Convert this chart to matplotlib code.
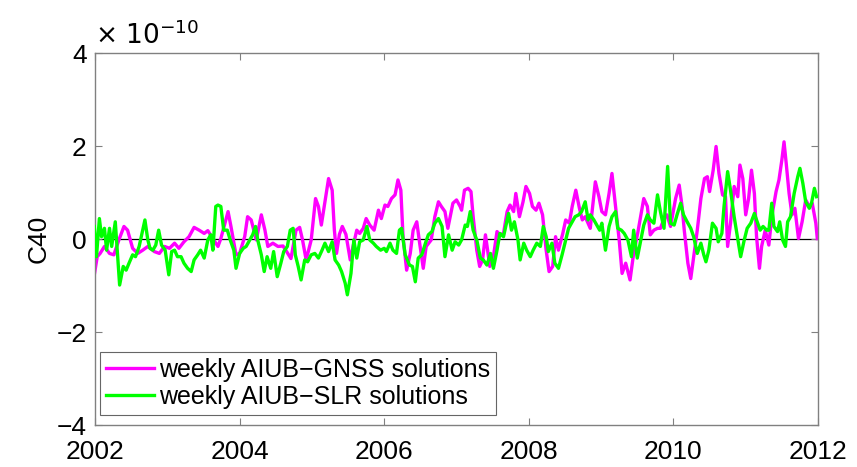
import matplotlib
matplotlib.use("Agg")
import matplotlib.pyplot as plt
import numpy as np

plt.rcParams['font.family'] = ['Liberation Sans', 'DejaVu Sans']

# weekly AIUB-GNSS solutions (C40, units of 1e-10)
gnss_t = [2001.99, 2002.03, 2002.07, 2002.13, 2002.20, 2002.26, 2002.33, 2002.40, 2002.45, 2002.52,
          2002.59, 2002.66, 2002.73, 2002.82, 2002.89, 2002.96, 2003.03, 2003.10, 2003.16, 2003.23,
          2003.30, 2003.37, 2003.44, 2003.51, 2003.56, 2003.63, 2003.70, 2003.74, 2003.84, 2003.88,
          2003.95, 2004.00, 2004.07, 2004.11, 2004.16, 2004.23, 2004.30, 2004.35, 2004.39, 2004.46,
          2004.53, 2004.60, 2004.65, 2004.71, 2004.78, 2004.83, 2004.87, 2004.92, 2004.99, 2005.05,
          2005.09, 2005.13, 2005.17, 2005.23, 2005.28, 2005.31, 2005.34, 2005.38, 2005.42, 2005.47,
          2005.53, 2005.57, 2005.62, 2005.66, 2005.71, 2005.75, 2005.80, 2005.86, 2005.92, 2005.96,
          2006.01, 2006.05, 2006.10, 2006.15, 2006.19, 2006.23, 2006.26, 2006.31, 2006.36, 2006.40,
          2006.45, 2006.49, 2006.54, 2006.58, 2006.65, 2006.70, 2006.75, 2006.79, 2006.84, 2006.88,
          2006.95, 2007.00, 2007.05, 2007.07, 2007.11, 2007.16, 2007.20, 2007.23, 2007.28, 2007.32,
          2007.36, 2007.40, 2007.43, 2007.46, 2007.51, 2007.56, 2007.60, 2007.65, 2007.70, 2007.74,
          2007.79, 2007.82, 2007.87, 2007.92, 2007.96, 2008.01, 2008.05, 2008.10, 2008.14, 2008.19,
          2008.24, 2008.28, 2008.33, 2008.37, 2008.41, 2008.47, 2008.51, 2008.56, 2008.60, 2008.65,
          2008.70, 2008.74, 2008.78, 2008.85, 2008.92, 2008.97, 2009.01, 2009.06, 2009.11, 2009.15,
          2009.20, 2009.25, 2009.29, 2009.34, 2009.40, 2009.45, 2009.51, 2009.55, 2009.59, 2009.64,
          2009.68, 2009.73, 2009.78, 2009.82, 2009.87, 2009.91, 2009.96, 2010.03, 2010.08, 2010.12,
          2010.15, 2010.20, 2010.24, 2010.28, 2010.33, 2010.38, 2010.43, 2010.47, 2010.50, 2010.55,
          2010.59, 2010.63, 2010.68, 2010.72, 2010.75, 2010.79, 2010.84, 2010.89, 2010.92, 2010.96,
          2011.00, 2011.04, 2011.08, 2011.12, 2011.15, 2011.19, 2011.22, 2011.27, 2011.32, 2011.36,
          2011.42, 2011.46, 2011.50, 2011.53, 2011.56, 2011.60, 2011.64, 2011.68, 2011.73, 2011.78,
          2011.83, 2011.88, 2011.92, 2011.97, 2011.99]
gnss_v = [-0.77, -0.38, -0.31, -0.16, -0.31, -0.34, -0.02, 0.27, 0.19, -0.20,
          -0.31, -0.24, -0.16, -0.27, -0.31, -0.16, -0.20, -0.09, -0.20, -0.06,
          0.05, 0.25, 0.19, 0.12, 0.18, 0.01, -0.16, 0.01, 0.59, 0.27,
          -0.34, -0.31, 0.05, 0.48, 0.41, -0.02, 0.52, 0.19, -0.16, -0.09,
          -0.16, -0.15, -0.27, -0.42, 0.19, 0.25, -0.02, -0.45, -0.02, 0.87,
          0.70, 0.30, 0.70, 1.30, 1.05, 0.20, -0.31, 0.10, 0.27, 0.10,
          -0.45, -0.15, 0.19, 0.12, 0.23, 0.44, 0.30, 0.19, 0.62, 0.44,
          0.73, 0.70, 0.87, 0.95, 1.27, 1.05, 0.05, -0.67, -0.31, 0.19,
          0.37, -0.09, -0.63, -0.16, -0.02, 0.48, 0.80, 0.70, 0.59, 0.23,
          0.77, 0.84, 0.70, 0.62, 1.05, 1.09, 1.02, 0.48, -0.24, -0.59,
          -0.45, 0.09, -0.24, -0.59, -0.38, 0.16, 0.09, 0.12, 0.59, 0.73,
          0.59, 0.98, 0.48, 0.80, 1.13, 0.98, 0.70, 0.62, 0.77, 0.52,
          -0.24, -0.70, -0.59, 0.05, -0.24, 0.12, 0.41, 0.34, 0.70, 1.05,
          0.66, 0.41, 0.48, 0.23, 1.23, 0.91, 0.59, 0.52, 0.98, 1.41,
          0.70, -0.02, -0.74, -0.52, -0.88, -0.31, 0.16, 0.52, 0.87, 0.70,
          0.09, 0.19, 0.23, 0.23, 0.44, 0.52, 0.27, 0.87, 1.16, 0.70,
          0.19, -0.52, -0.85, -0.38, 0.19, 0.87, 1.30, 1.34, 1.02, 1.48,
          1.99, 1.41, 0.95, 0.91, -0.16, 0.34, 1.13, 0.91, 1.59, 1.30,
          0.52, 0.87, 1.48, 0.98, 0.05, -0.63, -0.16, 0.19, -0.13, 0.48,
          1.02, 1.27, 1.70, 2.09, 1.63, 0.98, 0.52, 0.66, 0.01, 0.37,
          0.84, 0.70, 0.77, 0.34, 0.01]

# weekly AIUB-SLR solutions (C40, units of 1e-10)
slr_t = [2001.99, 2002.02, 2002.06, 2002.09, 2002.13, 2002.16, 2002.20, 2002.23, 2002.28, 2002.31,
         2002.34, 2002.39, 2002.43, 2002.47, 2002.52, 2002.56, 2002.61, 2002.66, 2002.69, 2002.73,
         2002.76, 2002.80, 2002.84, 2002.88, 2002.92, 2002.97, 2003.02, 2003.06, 2003.10, 2003.14,
         2003.19, 2003.23, 2003.28, 2003.33, 2003.37, 2003.42, 2003.46, 2003.51, 2003.56, 2003.60,
         2003.63, 2003.67, 2003.70, 2003.74, 2003.78, 2003.83, 2003.87, 2003.92, 2003.95, 2004.00,
         2004.05, 2004.09, 2004.14, 2004.18, 2004.22, 2004.25, 2004.30, 2004.34, 2004.38, 2004.43,
         2004.47, 2004.52, 2004.57, 2004.61, 2004.66, 2004.70, 2004.74, 2004.77, 2004.81, 2004.85,
         2004.90, 2004.94, 2004.99, 2005.04, 2005.09, 2005.14, 2005.18, 2005.23, 2005.28, 2005.32,
         2005.37, 2005.41, 2005.46, 2005.49, 2005.54, 2005.58, 2005.62, 2005.66, 2005.71, 2005.76,
         2005.80, 2005.85, 2005.89, 2005.95, 2006.00, 2006.03, 2006.08, 2006.12, 2006.17, 2006.21,
         2006.24, 2006.29, 2006.35, 2006.39, 2006.43, 2006.47, 2006.52, 2006.57, 2006.61, 2006.66,
         2006.70, 2006.75, 2006.80, 2006.84, 2006.89, 2006.94, 2006.98, 2007.03, 2007.07, 2007.12,
         2007.15, 2007.19, 2007.23, 2007.28, 2007.33, 2007.37, 2007.42, 2007.47, 2007.51, 2007.56,
         2007.60, 2007.65, 2007.70, 2007.72, 2007.76, 2007.80, 2007.85, 2007.88, 2007.93, 2007.97,
         2008.02, 2008.06, 2008.11, 2008.16, 2008.20, 2008.24, 2008.27, 2008.32, 2008.36, 2008.41,
         2008.46, 2008.50, 2008.55, 2008.59, 2008.64, 2008.69, 2008.73, 2008.78, 2008.82, 2008.85,
         2008.90, 2008.95, 2008.98, 2009.01, 2009.06, 2009.11, 2009.15, 2009.20, 2009.23, 2009.28,
         2009.32, 2009.37, 2009.42, 2009.45, 2009.50, 2009.55, 2009.59, 2009.64, 2009.68, 2009.73,
         2009.78, 2009.82, 2009.87, 2009.92, 2009.96, 2010.01, 2010.05, 2010.10, 2010.14, 2010.19,
         2010.24, 2010.28, 2010.33, 2010.38, 2010.42, 2010.45, 2010.49, 2010.54, 2010.59, 2010.62,
         2010.67, 2010.70, 2010.75, 2010.79, 2010.84, 2010.89, 2010.93, 2010.98, 2011.02, 2011.07,
         2011.12, 2011.15, 2011.20, 2011.24, 2011.29, 2011.32, 2011.36, 2011.39, 2011.44, 2011.47,
         2011.51, 2011.55, 2011.58, 2011.62, 2011.67, 2011.72, 2011.75, 2011.79, 2011.83, 2011.88,
         2011.91, 2011.95, 2011.98]
slr_v = [0.27, -0.38, 0.44, 0.05, 0.23, -0.24, 0.23, -0.16, 0.37, -0.31,
         -0.99, -0.59, -0.67, -0.52, -0.34, -0.38, -0.16, 0.19, 0.41, -0.02,
         -0.20, -0.24, -0.13, 0.19, -0.13, -0.24, -0.77, -0.27, -0.24, -0.38,
         -0.38, -0.52, -0.63, -0.70, -0.45, -0.34, -0.24, -0.41, -0.02, 0.09,
         -0.24, 0.70, 0.73, 0.70, 0.19, 0.19, -0.02, -0.24, -0.63, -0.31,
         -0.20, -0.16, -0.02, 0.09, 0.27, -0.02, -0.34, -0.70, -0.38, -0.63,
         -0.27, -0.81, -0.52, -0.27, -0.16, 0.19, 0.23, -0.34, -0.59, -0.88,
         -0.45, -0.49, -0.34, -0.31, -0.41, -0.24, -0.09, -0.27, -0.06, -0.45,
         -0.56, -0.70, -0.95, -1.20, -0.74, -0.02, -0.41, -0.06, -0.02, 0.27,
         -0.02, -0.09, -0.16, -0.24, -0.20, -0.27, -0.09, -0.24, -0.31, 0.19,
         0.23, -0.34, -0.56, -0.59, -0.92, -0.41, -0.34, -0.09, 0.09, 0.16,
         0.34, 0.44, 0.27, -0.38, 0.09, -0.24, -0.06, -0.13, -0.02, 0.30,
         0.27, 0.59, 0.19, -0.02, -0.41, -0.45, -0.56, -0.31, -0.63, -0.24,
         0.12, 0.05, 0.41, 0.55, 0.19, 0.37, -0.02, -0.45, -0.09, -0.24,
         -0.38, -0.24, -0.09, -0.16, 0.27, 0.05, -0.27, -0.09, -0.52, -0.63,
         -0.34, -0.09, 0.23, 0.34, 0.48, 0.52, 0.59, 0.80, 0.41, 0.52,
         0.41, 0.27, 0.19, 0.34, -0.24, 0.27, 0.48, 0.59, 0.23, 0.19,
         0.12, -0.02, -0.38, 0.19, -0.41, -0.02, 0.30, 0.52, 0.41, 0.34,
         0.95, 0.59, 0.23, 1.56, 0.34, 0.30, 0.52, 0.77, 0.52, 0.37,
         0.23, 0.05, -0.31, -0.09, -0.34, -0.49, -0.24, 0.34, 0.23, -0.06,
         0.12, 0.70, 1.45, 1.05, 0.48, 0.01, -0.38, -0.02, 0.23, 0.34,
         0.55, 0.41, 0.19, 0.27, 0.19, 0.19, 0.77, 0.27, 0.16, 0.37,
         -0.02, -0.16, 0.37, 0.48, 0.98, 1.34, 1.52, 1.20, 0.80, 0.66,
         0.77, 1.09, 0.91]

x_ticks = [2002, 2004, 2006, 2008, 2010, 2012]
y_ticks = [-4, -2, 0, 2, 4]

fig = plt.figure(figsize=(8.57, 4.67), dpi=100)
ax = fig.add_axes([0.1109, 0.0899, 0.8436, 0.7966])

ax.axhline(0, color='black', lw=0.9, zorder=1)
ax.plot(gnss_t, gnss_v, color='#ff00ff', lw=2.4, label='weekly AIUB\u2212GNSS solutions', zorder=2)
ax.plot(slr_t, slr_v, color='#00ff00', lw=2.4, label='weekly AIUB\u2212SLR solutions', zorder=3)

ax.set_xlim(2002, 2012)
ax.set_ylim(-4, 4)
ax.set_xticks(x_ticks)
ax.set_yticks(y_ticks)
ax.set_xticklabels([str(t) for t in x_ticks])
ax.set_yticklabels([str(t).replace('-', '\u2212') for t in y_ticks])
ax.tick_params(direction='in', top=True, right=True, length=5, width=0.8,
               color='#808080', labelsize=19)
ax.tick_params(axis='x', pad=11)
ax.tick_params(axis='y', pad=6)
for s in ax.spines.values():
    s.set_color('#808080')
    s.set_linewidth(1.0)

ax.set_ylabel('C40', fontsize=19, labelpad=4)
ax.text(0.0, 1.01, r'$\times\ 10^{-10}$', transform=ax.transAxes,
        fontsize=19, ha='left', va='bottom')

leg = ax.legend(loc='lower left', fontsize=18, frameon=True, fancybox=False,
                handlelength=1.9, handletextpad=0.2, borderpad=0.25,
                labelspacing=0.1, borderaxespad=0.0,
                bbox_to_anchor=(0.007, 0.027))
leg.get_frame().set_edgecolor('#404040')
leg.get_frame().set_linewidth(0.8)

fig.savefig('out.png', dpi=100)
